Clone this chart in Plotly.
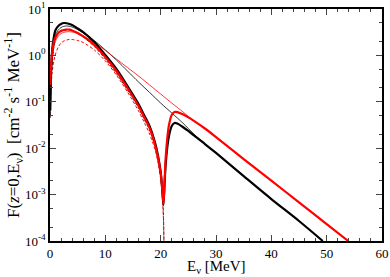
import plotly.graph_objects as go

# Energies (MeV) and fluxes
E_thick_black = [0.05, 0.2, 0.4, 0.7, 1.0, 1.5, 2.0, 2.5, 3.0, 4.0, 5.0, 6.0, 8.0, 10, 12, 14, 16, 17, 18, 19, 19.5, 20, 20.3, 20.5,
                 20.7, 20.9, 21.2, 21.5, 22, 22.5, 23, 24, 25, 26, 28, 30, 35, 40, 45, 49.3]
F_thick_black = [0.065, 0.44, 1.31, 2.49, 3.53, 4.30, 4.75, 4.99, 4.92, 4.52, 3.80, 3.19, 1.94, 1.02, 0.51, 0.219, 0.0897, 0.052, 0.030,
                 0.0129, 0.0071, 0.00307, 0.00126, 0.000597,
                 0.00162, 0.0044, 0.0106, 0.0183, 0.030, 0.0349, 0.034, 0.0286, 0.0235, 0.0188, 0.0123, 0.0079, 0.0025, 0.0008,
                 0.00027, 0.0001]

E_thin_black = [0.05, 0.2, 0.4, 0.7, 1.0, 1.5, 2.0, 2.5, 3.0, 3.5, 4.0, 5.0, 6.0, 8.0, 10, 12, 14, 16, 18, 20, 22, 24, 25, 26, 28,
                30, 35, 40, 45, 49.3]
F_thin_black = [0.045, 0.295, 0.88, 1.85, 2.75, 3.53, 3.99, 4.24, 4.30, 4.24, 4.09, 3.61, 3.04, 2.09, 1.31, 0.796, 0.461, 0.267,
                0.159, 0.094, 0.0574, 0.0349, 0.0266, 0.0202, 0.0123, 0.0079, 0.0025, 0.0008, 0.00027, 0.0001]

E_thick_red = [0.05, 0.2, 0.4, 0.7, 1.0, 1.5, 2.0, 2.5, 3.0, 3.5, 4.0, 5.0, 6.0, 8.0, 10, 12, 14, 16, 17, 18, 19, 19.5, 20, 20.3,
               20.5, 20.7, 20.9, 21.2, 21.5, 22, 22.5, 23, 24, 25, 26, 28, 30, 35, 40, 45, 50, 53.9]
F_thick_red = [0.23, 0.62, 1.18, 1.94, 2.49, 3.04, 3.36, 3.53, 3.61, 3.58, 3.44, 3.04, 2.56, 1.68, 0.924, 0.461, 0.198, 0.081,
               0.047, 0.0272, 0.0117, 0.00646, 0.00292, 0.00126, 0.00063, 0.00187, 0.0061, 0.0166, 0.0316, 0.052, 0.0603,
               0.0600, 0.0537, 0.0462, 0.0389, 0.0266, 0.0174, 0.00583, 0.0020, 0.00068, 0.000232, 0.0001]

E_thin_red = [0.05, 0.2, 0.4, 0.7, 1.0, 1.5, 2.0, 2.5, 3.0, 3.5, 4.0, 5.0, 6.0, 8.0, 10, 12, 14, 16, 18, 20, 22, 24, 26, 28, 30,
              35, 40, 45, 50, 53.9]
F_thin_red = [0.163, 0.485, 0.924, 1.52, 2.04, 2.62, 2.96, 3.15, 3.23, 3.24, 3.19, 2.96, 2.62, 1.90, 1.28, 0.836, 0.548, 0.36,
              0.23, 0.147, 0.094, 0.061, 0.0389, 0.0266, 0.0174, 0.00583, 0.0020, 0.00068, 0.000232, 0.0001]

E_dash_black = [0.05, 0.2, 0.4, 0.7, 1.0, 1.5, 2.0, 2.5, 3.0, 3.5, 4.0, 5.0, 6.0, 8.0, 10, 12, 14, 16, 17, 18, 19, 19.5, 20,
                20.3, 20.5, 20.62]
F_dash_black = [0.052, 0.267, 0.72, 1.52, 2.26, 3.04, 3.44, 3.61, 3.65, 3.59, 3.44, 2.96, 2.49, 1.56, 0.836, 0.407, 0.18, 0.0735,
                0.0426, 0.0247, 0.0111, 0.0061, 0.00264, 0.00108, 0.000363, 0.00005]

E_dash_red = [0.05, 0.2, 0.4, 0.7, 1.0, 1.5, 2.0, 2.5, 3.0, 3.5, 4.0, 5.0, 6.0, 8.0, 10, 12, 14, 16, 17, 18, 19, 19.5, 20, 20.3,
              20.5, 20.62]
F_dash_red = [0.11, 0.23, 0.44, 0.76, 1.07, 1.52, 1.85, 2.04, 2.15, 2.2, 2.2, 2.09, 1.90, 1.31, 0.76, 0.378, 0.163, 0.0634,
              0.0367, 0.0202, 0.00914, 0.00505, 0.00217, 0.000887, 0.000313, 0.00005]

x_ticks = [0, 10, 20, 30, 40, 50, 60]
y_ticks = [1e-4, 1e-3, 1e-2, 1e-1, 1, 10]
y_labels = ["10<sup>-4</sup>", "10<sup>-3</sup>", "10<sup>-2</sup>", "10<sup>-1</sup>", "10<sup>0</sup>", "10<sup>1</sup>"]

fig = go.Figure()

def add(x, y, color, width, dash="solid"):
    fig.add_trace(go.Scatter(x=x, y=y, mode="lines",
                             line=dict(color=color, width=width, dash=dash, shape="spline", smoothing=0.8),
                             showlegend=False, hoverinfo="skip"))

add(E_thin_black, F_thin_black, "black", 0.8)
add(E_thin_red, F_thin_red, "#ff0000", 0.8)
add(E_dash_black, F_dash_black, "#3a1a1a", 1.0, "3px,2px")
add(E_dash_red, F_dash_red, "#ff0000", 1.0, "3px,2px")
add(E_thick_black, F_thick_black, "black", 2.2)
add(E_thick_red, F_thick_red, "#ff0000", 2.2)

font = "Liberation Serif, Times New Roman, serif"
fig.update_layout(
    template="none",
    width=390, height=277,
    margin=dict(l=50, r=8, t=9, b=36, autoexpand=False),
    paper_bgcolor="white", plot_bgcolor="white",
    font=dict(family=font, size=13, color="black"),
    xaxis=dict(range=[0, 60], tickvals=x_ticks, ticks="inside", ticklen=6, tickwidth=1.2,
               showline=True, linecolor="black", linewidth=1.5, mirror="allticks",
               showgrid=False, zeroline=False, automargin=False,
               minor=dict(dtick=2, ticks="inside", ticklen=3, tickwidth=1, showgrid=False),
               tickfont=dict(size=13)),
    yaxis=dict(type="log", range=[-4, 1], tickvals=y_ticks, ticktext=y_labels,
               ticks="inside", ticklen=6, tickwidth=1.2,
               showline=True, linecolor="black", linewidth=1.5, mirror="allticks",
               showgrid=False, zeroline=False, automargin=False,
               minor=dict(ticks="inside", ticklen=3, tickwidth=1, showgrid=False),
               tickfont=dict(size=13)),
    annotations=[
        dict(text="E<sub>ν</sub> [MeV]", xref="paper", yref="paper", x=0.5, y=0, yshift=-26,
             xanchor="center", yanchor="middle", showarrow=False, font=dict(size=15)),
        dict(text="F(<i>z</i>=0,E<sub>ν</sub>)  [cm<sup>-2</sup> s<sup>-1</sup> MeV<sup>-1</sup>]",
             xref="paper", yref="paper", x=0, y=0.5, xshift=-37, textangle=-90,
             xanchor="center", yanchor="middle", showarrow=False, font=dict(size=17)),
    ],
)

fig.write_html("out.html", config={"displayModeBar": False},
               post_script="document.body.style.margin='0';")
